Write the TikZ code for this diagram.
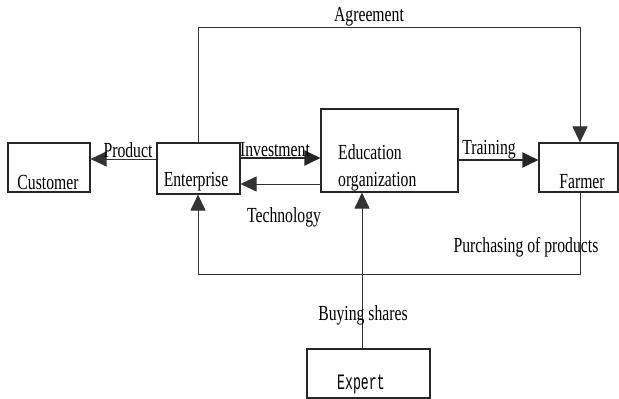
\documentclass[tikz,border=0pt]{standalone}
\usepackage{fontspec}
\setmainfont{Liberation Serif}[FakeStretch=0.73]
\newfontfamily\expfont{Liberation Mono}[FakeStretch=0.6]
\usetikzlibrary{arrows.meta}
\begin{document}
\begin{tikzpicture}[x=1pt,y=-1pt,
  box/.style={draw=black!85,line width=1.1pt,rectangle,inner sep=0pt},
  lbl/.style={inner sep=0pt,font=\fontsize{21.5}{22}\selectfont},
  conn/.style={draw=black!80,line width=0.9pt},
  bold/.style={draw=black!85,line width=2pt},
  tip/.style={-{Triangle[length=16pt,width=15pt]}}]
\useasboundingbox (0,0) rectangle (619,399);
\fill[white] (0,0) rectangle (619,399);
% boxes
\node[box,minimum width=82pt,minimum height=49pt] (cust) at (49,167.5) {};
\node[box,minimum width=83pt,minimum height=51pt] (ent) at (198.5,168.5) {};
\node[box,minimum width=137pt,minimum height=83pt] (edu) at (389.5,150.5) {};
\node[box,minimum width=79pt,minimum height=49pt] (farm) at (578.5,167.5) {};
\node[box,minimum width=123pt,minimum height=49pt] (exp) at (368.5,373.5) {};
% box texts
\node[lbl] (tcust) at (48,182) {Customer};
\node[lbl] (tent) at (196,182) {Enterprise};
\node[lbl,anchor=west] (tedu1) at (338,152) {Education};
\node[lbl,anchor=west] (tedu2) at (338,182) {organization};
\node[lbl] (tfarm) at (582,182) {Farmer};
\node[inner sep=0pt,font=\expfont\fontsize{22}{22}\selectfont] (texp) at (361,384) {Expert};
% coordinates
\coordinate (agL) at (198,27);
\coordinate (agR) at (580,27);
\coordinate (bL) at (198,274);
\coordinate (bR) at (580,274);
% connectors
\draw[conn,tip] (ent.north -| agL) -- (agL) -- (agR) -- (farm.north -| agR);
\draw[conn,tip] (farm.south -| bR) -- (bR) -- (bL) -- (ent.south -| bL);
\draw[conn,tip] (ent.west |- 0,159) -- (cust.east |- 0,159);
\draw[bold,tip] (ent.east |- 0,158) -- (edu.west |- 0,158);
\draw[conn,tip] (edu.west |- 0,184) -- (ent.east |- 0,184);
\draw[bold,tip] (edu.east |- 0,160) -- (farm.west |- 0,160);
\draw[conn,tip] (exp.north -| 362,0) -- (edu.south -| 362,0);
% labels
\node[lbl] (lag) at (369,17) {Agreement};
\node[lbl] (lprod) at (128,150) {Product};
\node[lbl] (linv) at (275,150) {Investment};
\node[lbl] (ltech) at (284,217) {Technology};
\node[lbl] (ltrain) at (489,150) {Training};
\node[lbl] (lpur) at (526,247) {Purchasing of products};
\node[lbl] (lbuy) at (363,315) {Buying shares};
\end{tikzpicture}
\end{document}
